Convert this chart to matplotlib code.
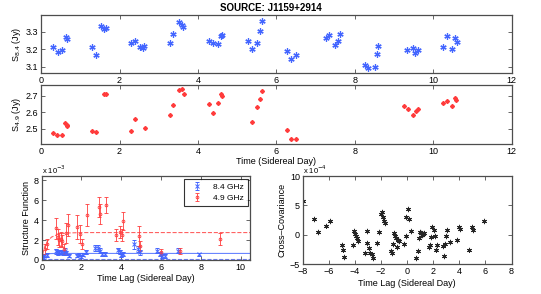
import numpy as np
import matplotlib.pyplot as plt

plt.rcParams['font.family'] = ['Liberation Sans', 'DejaVu Sans']
plt.rcParams['font.size'] = 7

# --- light curves (time in sidereal days) ---
t_84 = [0.31, 0.42, 0.54, 0.63, 0.65, 1.31, 1.39, 1.53, 1.61, 1.65, 2.29, 2.39, 2.52, 2.59, 2.63,
        3.29, 3.37, 3.52, 3.59, 3.63, 4.29, 4.38, 4.52, 4.59, 4.62, 5.28, 5.37, 5.50, 5.58, 5.63,
        6.28, 6.36, 6.50, 7.27, 7.35, 7.50, 7.56, 7.61, 8.26, 8.33, 8.50, 8.56, 8.60,
        9.34, 9.49, 9.54, 9.60, 10.25, 10.34, 10.48, 10.55, 10.60]
s_84 = [3.213, 3.185, 3.194, 3.270, 3.260, 3.213, 3.166, 3.332, 3.313, 3.323, 3.236, 3.247, 3.213, 3.208, 3.219,
        3.238, 3.287, 3.355, 3.336, 3.326, 3.245, 3.238, 3.232, 3.275, 3.279, 3.247, 3.202, 3.236, 3.306, 3.360,
        3.190, 3.143, 3.168, 3.264, 3.283, 3.225, 3.249, 3.285, 3.108, 3.091, 3.098, 3.172, 3.221,
        3.198, 3.208, 3.181, 3.198, 3.215, 3.277, 3.204, 3.264, 3.242]

t_49 = [0.31, 0.40, 0.54, 0.61, 0.65, 0.66, 1.30, 1.39, 1.61, 1.66, 2.29, 2.39, 2.64,
        3.29, 3.37, 3.52, 3.59, 3.64, 4.28, 4.37, 4.51, 4.59, 4.62, 5.37, 5.51, 5.58, 5.62,
        6.28, 6.36, 6.50, 9.26, 9.35, 9.48, 9.56, 9.60, 10.25, 10.34, 10.48, 10.54, 10.59]
s_49 = [2.474, 2.464, 2.464, 2.532, 2.524, 2.514, 2.484, 2.482, 2.710, 2.710, 2.484, 2.558, 2.504,
        2.584, 2.644, 2.734, 2.740, 2.708, 2.650, 2.598, 2.658, 2.710, 2.698, 2.542, 2.630, 2.682, 2.730,
        2.494, 2.440, 2.440, 2.638, 2.622, 2.586, 2.606, 2.618, 2.658, 2.670, 2.636, 2.688, 2.676]

# --- structure functions (x 10^-3) ---
lag_84 = [0.06, 0.12, 0.25, 0.72, 0.80, 0.88, 0.95, 1.05, 1.15, 1.22, 1.35, 1.77, 1.88, 1.98, 2.07, 2.24,
          2.69, 2.82, 2.91, 3.04, 3.17, 3.82, 3.93, 4.01, 4.10, 4.66, 4.82, 4.95,
          5.82, 5.95, 6.03, 6.19, 6.87, 7.89]
sf_84 = [0.27, 0.40, 0.53, 0.85, 0.70, 0.75, 0.80, 0.65, 0.90, 0.70, 0.40, 0.43, 0.53, 0.30, 0.50, 0.77,
         1.17, 1.17, 0.90, 0.63, 0.57, 0.97, 0.77, 0.50, 0.63, 1.57, 1.07, 0.77,
         0.90, 0.63, 0.43, 0.43, 0.90, 0.57]
sf_84_err = [0.15, 0.15, 0.2, 0.25, 0.2, 0.2, 0.2, 0.2, 0.25, 0.2, 0.15, 0.15, 0.15, 0.15, 0.15, 0.2,
             0.3, 0.3, 0.25, 0.2, 0.2, 0.25, 0.2, 0.2, 0.2, 0.45, 0.3, 0.25,
             0.25, 0.2, 0.2, 0.2, 0.25, 0.15]

lag_49 = [0.16, 0.25, 0.71, 0.84, 0.89, 0.95, 1.03, 1.13, 1.24, 1.31, 1.76, 1.92, 2.02, 2.26,
          2.89, 2.94, 3.23, 3.75, 3.94, 4.02, 4.09, 4.88, 4.94, 5.98, 6.95, 8.97]
sf_49 = [1.13, 1.60, 3.20, 2.30, 1.97, 2.13, 1.87, 1.13, 2.73, 3.53, 3.30, 2.63, 1.63, 4.53,
         5.30, 4.63, 5.53, 2.53, 2.80, 2.53, 3.87, 2.37, 1.40, 0.80, 0.93, 2.13]
sf_49_err = [0.5, 0.5, 1.05, 0.8, 0.7, 0.7, 0.6, 0.5, 1.0, 1.1, 1.2, 0.9, 0.5, 1.1,
             1.0, 1.0, 0.8, 0.6, 0.6, 0.6, 0.9, 1.0, 0.5, 0.3, 0.3, 0.6]

# model / noise curves
mod_x = [0.0, 0.1, 0.2, 0.3, 0.5, 0.8, 1.2, 2.0, 4.0, 10.5]
mod_49 = [0.0, 1.0, 1.6, 1.9, 2.3, 2.55, 2.7, 2.75, 2.75, 2.75]
mod_84 = [0.30, 0.50, 0.58, 0.62, 0.64, 0.65, 0.65, 0.65, 0.65, 0.65]
noise_84 = 0.07
noise_49 = 0.03

# --- cross-covariance (x 10^-4) ---
cc_lag = [-7.95, -7.16, -6.86, -6.18, -5.88, -5.02, -4.90, -4.83, -4.17, -4.04, -3.97, -3.92, -3.87, -3.80,
          -3.24, -3.11, -3.04, -2.94, -2.82, -2.70, -2.62, -2.28, -2.18, -2.01, -1.94, -1.84, -1.74, -1.67,
          -1.23, -1.15, -1.10, -1.00, -0.96, -0.86, -0.78, -0.71, -0.61, -0.25, -0.12, -0.05, 0.07, 0.17, 0.32,
          0.71, 0.81, 0.91, 0.98, 1.08, 1.15, 1.23, 1.30, 1.67, 1.74, 1.84, 1.94, 2.03, 2.11, 2.21, 2.30,
          2.77, 2.82, 2.89, 2.99, 3.06, 3.26, 3.80, 3.97, 4.04, 4.71, 4.98, 5.07, 5.93]
cc_val = [5.8, 2.7, 0.45, 1.57, 2.36, -1.69, -2.53, -3.8, -1.8, 0.67, 0.11, -0.28, -0.56, -1.12,
          -3.09, -1.4, 0.56, -2.25, -3.09, -3.37, -3.93, -1.4, 0.45, 3.48, 3.93, 3.09, 2.36, 1.97,
          -2.81, -3.09, -1.57, 0.28, -0.28, -0.56, -2.13, -0.84, -1.12, -1.57, -0.28, 3.09, 4.38, 2.7, 0.56,
          -4.04, -2.7, -0.56, 0.45, 0.28, 0.0, 0.17, 0.28, -2.13, -1.8, -0.45, 1.4, 0.84, -0.28, -2.53, -1.69,
          -1.97, -3.65, -1.57, -0.28, 0.84, -1.24, -0.84, 1.4, 1.01, -2.53, 1.4, 0.84, 2.36]

blue = '#4466ff'
red = '#ff3b3b'
frame = '0.3'
asterisk = (6, 2, 0)
lab_fs = 6.5


def style(ax):
    ax.tick_params(direction='in', top=True, right=True, length=3, width=0.6,
                   color=frame, labelsize=6.5, pad=2)
    for s in ax.spines.values():
        s.set_color(frame)
        s.set_linewidth(0.9)


fig = plt.figure(figsize=(5.41, 2.94), dpi=100)
fig.text(0.5, 0.972, 'SOURCE: J1159+2914', ha='center', va='center', fontsize=7, fontweight='bold')

ax1 = fig.add_axes([0.076, 0.752, 0.870, 0.197])
ax1.plot(t_84, s_84, ls='none', marker=asterisk, color=blue, ms=4.5, mew=0.9)
ax1.set_xlim(0, 12)
ax1.set_ylim(3.066, 3.394)
ax1.set_yticks([3.1, 3.2, 3.3])
ax1.set_xticks(range(0, 13, 2))
ax1.set_ylabel('S$_{8.4}$ (Jy)', fontsize=lab_fs, labelpad=2)
style(ax1)

ax2 = fig.add_axes([0.076, 0.510, 0.870, 0.201])
ax2.errorbar(t_49, s_49, yerr=0.008, fmt='D', color=red, ms=2.0, elinewidth=0.8, capsize=0)
ax2.set_xlim(0, 12)
ax2.set_ylim(2.408, 2.764)
ax2.set_yticks([2.5, 2.6, 2.7])
ax2.set_xticks(range(0, 13, 2))
ax2.set_ylabel('S$_{4.9}$ (Jy)', fontsize=lab_fs, labelpad=2)
ax2.set_xlabel('Time (Sidereal Day)', fontsize=lab_fs, labelpad=0.5)
style(ax2)

ax3 = fig.add_axes([0.077, 0.116, 0.386, 0.284])
ax3.plot(mod_x, mod_49, '--', color=red, lw=0.8, alpha=0.8)
ax3.plot(mod_x, mod_84, '-', color=blue, lw=0.8, alpha=0.8)
ax3.axhline(noise_84, color=blue, ls='--', lw=0.8, alpha=0.8)
ax3.axhline(noise_49, color=red, ls='--', lw=0.8, alpha=0.8)
ax3.errorbar(lag_84, sf_84, yerr=sf_84_err, fmt='x', color=blue, ms=3, mew=0.7,
             elinewidth=0.6, capsize=1.5, label='8.4 GHz')
ax3.errorbar(lag_49, sf_49, yerr=sf_49_err, fmt='o', color=red, ms=2, mew=0.6, mfc='none',
             elinewidth=0.6, capsize=1.5, label='4.9 GHz')
ax3.set_xlim(0, 10.5)
ax3.set_ylim(0, 8.4)
ax3.set_xticks([0, 2, 4, 6, 8, 10])
ax3.set_yticks([0, 2, 4, 6, 8])
ax3.set_xlabel('Time Lag (Sidereal Day)', fontsize=lab_fs, labelpad=2)
ax3.set_ylabel('Structure Function', fontsize=lab_fs, labelpad=2)
ax3.text(0.0, 1.0, r'x 10$^{-3}$', transform=ax3.transAxes, fontsize=5.5, va='bottom')
leg = ax3.legend(loc='upper right', fontsize=6, frameon=True, fancybox=False,
                 borderpad=0.5, handlelength=2.2, labelspacing=0.4, borderaxespad=0.3)
leg.get_frame().set_edgecolor('black')
leg.get_frame().set_linewidth(0.8)
style(ax3)

ax4 = fig.add_axes([0.5595, 0.102, 0.386, 0.299])
ax4.errorbar(cc_lag, cc_val, yerr=0.5, fmt='none', ecolor='0.65', elinewidth=0.8, capsize=0)
ax4.plot(cc_lag, cc_val, ls='none', marker=asterisk, color='0.15', ms=3.5, mew=0.7)
ax4.set_xlim(-8, 8)
ax4.set_ylim(-5, 10)
ax4.set_xticks(range(-8, 9, 2))
ax4.set_yticks([-5, 0, 5, 10])
ax4.set_xlabel('Time Lag (Sidereal Day)', fontsize=lab_fs, labelpad=2)
ax4.set_ylabel('Cross\u2013Covariance', fontsize=lab_fs, labelpad=2)
ax4.text(0.0, 1.0, r'x 10$^{-4}$', transform=ax4.transAxes, fontsize=5.5, va='bottom')
style(ax4)

fig.savefig('out.png', dpi=100)
